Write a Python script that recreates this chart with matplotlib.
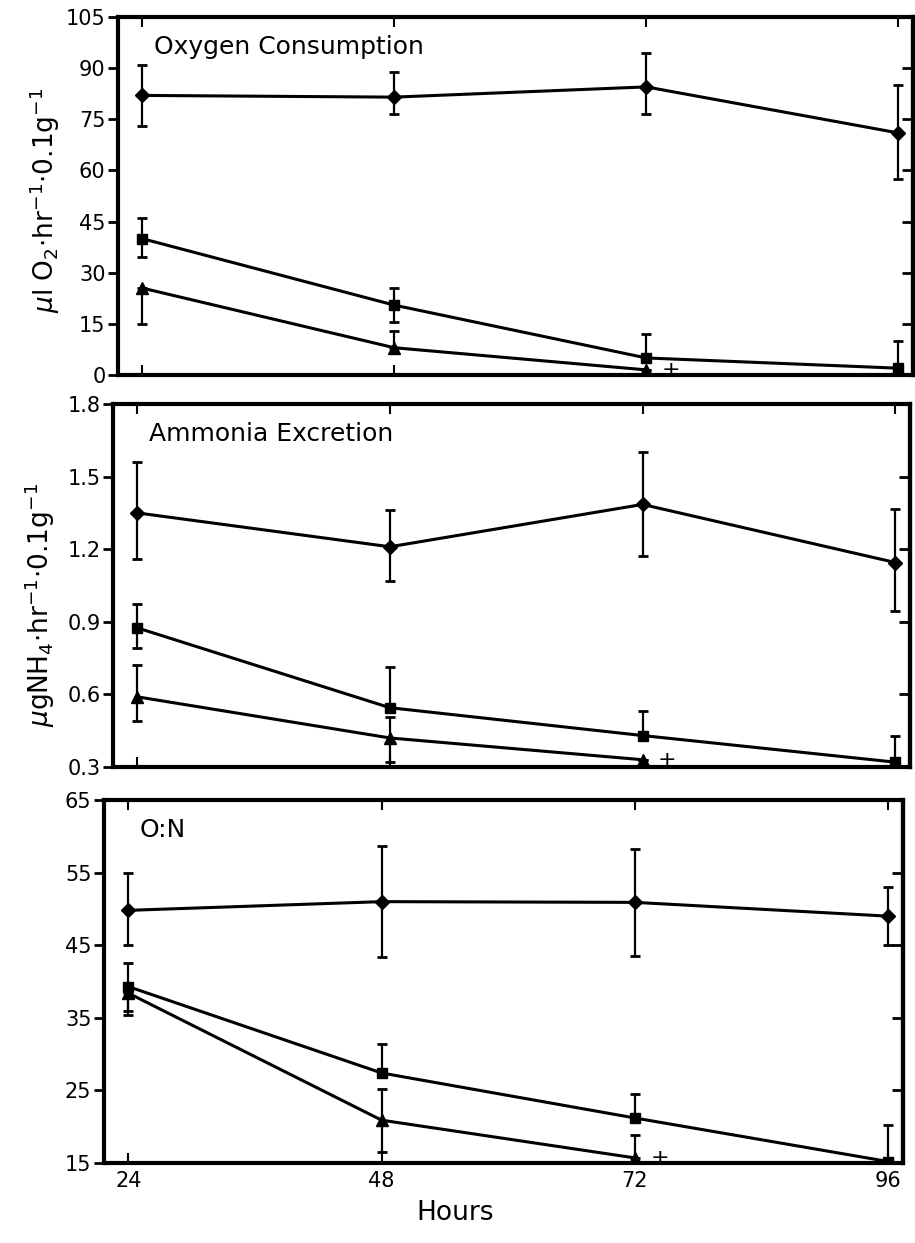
import numpy as np
import matplotlib
matplotlib.use("Agg")
import matplotlib.pyplot as plt

hours = [24, 48, 72, 96]

# oxygen consumption
o2_dia = [82, 81.5, 84.5, 71]
o2_dia_up = [9, 7.5, 10, 14]
o2_dia_lo = [9, 5, 8, 13.5]
o2_sq = [40, 20.5, 5, 2]
o2_sq_up = [6, 5, 7, 8]
o2_sq_lo = [5.5, 5, 0, 0]
o2_tri = [25.5, 8, 1.5]
o2_tri_up = [0, 5, 0]
o2_tri_lo = [10.5, 0, 0]

# ammonia excretion
nh_dia = [1.35, 1.21, 1.385, 1.145]
nh_dia_up = [0.21, 0.15, 0.215, 0.22]
nh_dia_lo = [0.19, 0.14, 0.215, 0.2]
nh_sq = [0.875, 0.545, 0.43, 0.32]
nh_sq_up = [0.1, 0.17, 0.1, 0.11]
nh_sq_lo = [0.085, 0, 0, 0]
nh_tri = [0.59, 0.42, 0.33]
nh_tri_up = [0.13, 0.085, 0]
nh_tri_lo = [0.1, 0.1, 0]

# O:N ratio
on_dia = [49.8, 51, 50.9, 49]
on_dia_up = [5.2, 7.6, 7.3, 4]
on_dia_lo = [4.8, 7.6, 7.4, 4]
on_sq = [39.3, 27.4, 21.2, 15.2]
on_sq_up = [3.3, 4, 3.3, 5]
on_sq_lo = [3.3, 0, 0, 0]
on_tri = [38.4, 20.9, 15.7]
on_tri_up = [0, 4.3, 3.2]
on_tri_lo = [3, 4.4, 0]

panels = [
    dict(title="Oxygen Consumption", ylim=(0, 105), yt=np.arange(0, 106, 15),
         ytl=["0", "15", "30", "45", "60", "75", "90", "105"],
         ylabel=r"$\mu$l O$_2$$\cdot$hr$^{-1}$$\cdot$0.1g$^{-1}$",
         series=[(o2_dia, o2_dia_lo, o2_dia_up, "D", 7),
                 (o2_sq, o2_sq_lo, o2_sq_up, "s", 7),
                 (o2_tri, o2_tri_lo, o2_tri_up, "^", 8)],
         pos=[118, 17, 913, 375], lab=(45, 200)),
    dict(title="Ammonia Excretion", ylim=(0.3, 1.8), yt=np.arange(0.3, 1.81, 0.3),
         ytl=["0.3", "0.6", "0.9", "1.2", "1.5", "1.8"],
         ylabel=r"$\mu$gNH$_4$$\cdot$hr$^{-1}$$\cdot$0.1g$^{-1}$",
         series=[(nh_dia, nh_dia_lo, nh_dia_up, "D", 7),
                 (nh_sq, nh_sq_lo, nh_sq_up, "s", 7),
                 (nh_tri, nh_tri_lo, nh_tri_up, "^", 8)],
         pos=[113, 404, 910, 767], lab=(40, 605)),
    dict(title="O:N", ylim=(15, 65), yt=np.arange(15, 66, 10),
         ytl=["15", "25", "35", "45", "55", "65"], ylabel=None,
         series=[(on_dia, on_dia_lo, on_dia_up, "D", 7),
                 (on_sq, on_sq_lo, on_sq_up, "s", 7),
                 (on_tri, on_tri_lo, on_tri_up, "^", 8)],
         pos=[104, 800, 903, 1163], lab=None),
]

W, H = 915, 1243
fig = plt.figure(figsize=(W / 100, H / 100), dpi=100)

for i, p in enumerate(panels):
    l, t, r, b = p["pos"]
    ax = fig.add_axes([l / W, 1 - b / H, (r - l) / W, (b - t) / H])
    for vals, lo, up, mk, ms in p["series"]:
        x = hours[:len(vals)]
        ax.errorbar(x, vals, yerr=[lo, up], fmt="-", color="black", lw=2.2,
                    marker=mk, ms=ms, ecolor="black", elinewidth=1.6,
                    capsize=3.5, capthick=2)
    # "+" beside the last triangle
    ax.annotate("+", (72, p["series"][2][0][2]), xytext=(11, 0),
                textcoords="offset points", fontsize=16, va="center")
    ax.set_xlim(21.7, 97.4)
    ax.set_ylim(*p["ylim"])
    ax.set_yticks(p["yt"])
    ax.set_yticklabels(p["ytl"])
    ax.set_xticks(hours)
    ax.tick_params(axis="y", direction="out", length=7, width=2,
                   labelsize=15, pad=2)
    ax.tick_params(axis="x", direction="in", length=7, width=1.5, top=True,
                   labelsize=15, pad=6)
    # inward ticks on the right side, no labels
    sec = ax.secondary_yaxis("right")
    sec.set_yticks(p["yt"])
    sec.tick_params(direction="in", length=8, width=2, labelright=False)
    sec.spines["right"].set_linewidth(3)
    if i < 2:
        ax.set_xticklabels([])
    for s in ax.spines.values():
        s.set_linewidth(3)
    ax.text(0.045, 0.95, p["title"], transform=ax.transAxes, fontsize=18,
            va="top", ha="left")
    if p["ylabel"]:
        fig.text(p["lab"][0] / W, 1 - p["lab"][1] / H, p["ylabel"],
                 rotation=90, fontsize=19, ha="center", va="center")

fig.text(455 / W, 1 - 1213 / H, "Hours", fontsize=19, ha="center", va="center")

fig.savefig("out.png", dpi=100, facecolor="white")
